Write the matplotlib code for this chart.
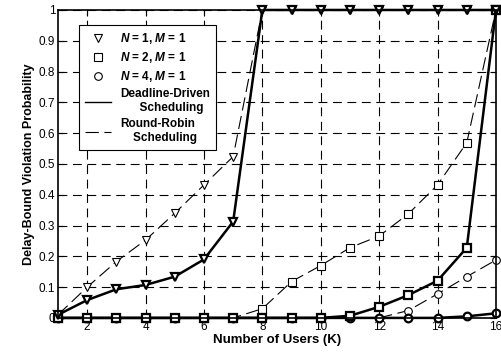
import matplotlib
matplotlib.use('Agg')
from matplotlib import pyplot as plt
from matplotlib.lines import Line2D

plt.rcParams['font.family'] = 'Liberation Sans'
plt.rcParams['font.weight'] = 'bold'
plt.rcParams['mathtext.fontset'] = 'custom'
plt.rcParams['mathtext.it'] = 'Liberation Sans:bold:italic'
plt.rcParams['mathtext.rm'] = 'Liberation Sans:bold'

# 用户数
users = list(range(1, 17))

# N=1, M=1
n1_dd = [0.01, 0.058, 0.093, 0.107, 0.134, 0.19, 0.313, 1, 1, 1, 1, 1, 1, 1, 1, 1]
n1_rr = [0.01, 0.10, 0.183, 0.253, 0.34, 0.432, 0.524, 1, 1, 1, 1, 1, 1, 1, 1, 1]
# N=2, M=1
n2_dd = [0, 0, 0, 0, 0, 0, 0, 0, 0, 0, 0.007, 0.036, 0.074, 0.121, 0.228, 1]
n2_rr = [0, 0, 0, 0, 0, 0, 0, 0.03, 0.118, 0.17, 0.228, 0.266, 0.338, 0.432, 0.569, 1]
# N=4, M=1
n4_dd = [0, 0, 0, 0, 0, 0, 0, 0, 0, 0, 0, 0, 0, 0, 0.005, 0.015]
n4_rr = [0, 0, 0, 0, 0, 0, 0, 0, 0, 0, 0, 0, 0.024, 0.078, 0.134, 0.188]

fig = plt.figure(figsize=(5.02, 3.56), dpi=100)
ax = fig.add_axes([0.1155, 0.107, 0.8725, 0.865])

rr_style = dict(color='black', linewidth=0.8, linestyle=(0, (12, 5)), markerfacecolor='white',
                markeredgewidth=0.8, markersize=5.5, clip_on=False)
dd_style = dict(color='black', linewidth=1.8, linestyle='-', markerfacecolor='white',
                markeredgewidth=1.6, markersize=5.5, clip_on=False)

ax.plot(users, n1_rr, marker='v', **rr_style)
ax.plot(users, n2_rr, marker='s', **rr_style)
ax.plot(users, n4_rr, marker='o', **rr_style)
ax.plot(users, n4_dd, marker='o', **dd_style)
ax.plot(users, n2_dd, marker='s', **dd_style)
ax.plot(users, n1_dd, marker='v', **dd_style)

ax.set_xlim(1, 16)
ax.set_ylim(0, 1)
ax.set_xticks([2, 4, 6, 8, 10, 12, 14, 16])
ax.set_yticks([0, 0.1, 0.2, 0.3, 0.4, 0.5, 0.6, 0.7, 0.8, 0.9, 1])
ax.set_yticklabels(['0', '0.1', '0.2', '0.3', '0.4', '0.5', '0.6', '0.7', '0.8', '0.9', '1'])
ax.tick_params(direction='in', labelsize=8.5, length=4, top=True, right=True, pad=2)
for lbl in ax.get_xticklabels() + ax.get_yticklabels():
    lbl.set_fontweight('normal')
ax.grid(True, color='black', linestyle=(0, (8, 5)), linewidth=0.8)
for s in ax.spines.values():
    s.set_linewidth(1.2)

ax.set_xlabel('Number of Users (K)', fontsize=9.5, fontweight='bold', labelpad=1)
ax.set_ylabel('Delay-Bound Violation Probability', fontsize=9, fontweight='bold', labelpad=3)

# 图例
handles = [
    Line2D([], [], marker='v', linestyle='none', color='black', markerfacecolor='white',
           markersize=5.5, markeredgewidth=0.8),
    Line2D([], [], marker='s', linestyle='none', color='black', markerfacecolor='white',
           markersize=5.5, markeredgewidth=0.8),
    Line2D([], [], marker='o', linestyle='none', color='black', markerfacecolor='white',
           markersize=5.5, markeredgewidth=0.8),
    Line2D([], [], color='black', linewidth=1.0),
    Line2D([], [], color='black', linewidth=0.8, linestyle=(0, (12, 5))),
]
labels = [r'$N$ = 1, $M$ = 1', r'$N$ = 2, $M$ = 1', r'$N$ = 4, $M$ = 1',
          'Deadline-Driven\n      Scheduling', 'Round-Robin\n    Scheduling']
leg = ax.legend(handles, labels, loc='upper left', bbox_to_anchor=(0.034, 0.97), fontsize=8.5,
                fancybox=False, edgecolor='black', framealpha=1, handlelength=2.2,
                labelspacing=0.35, borderpad=0.5)
leg.get_frame().set_linewidth(0.8)

plt.savefig('out.png', dpi=100)
